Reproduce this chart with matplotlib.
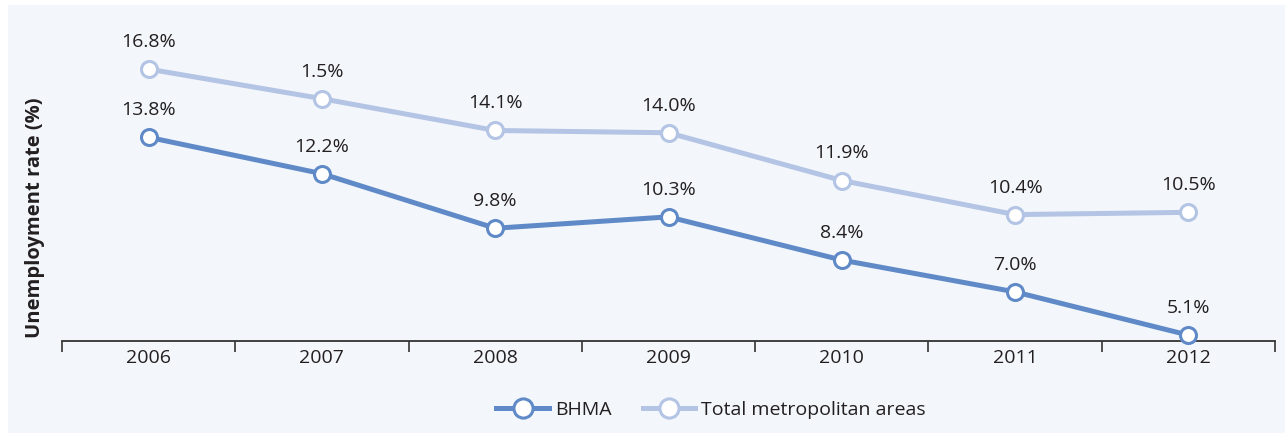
import numpy as np
import matplotlib.pyplot as plt
from matplotlib.patches import Rectangle

years = ["2006", "2007", "2008", "2009", "2010", "2011", "2012"]
bhma = [13.8, 12.2, 9.8, 10.3, 8.4, 7.0, 5.1]
total_metro = [16.8, 15.5, 14.1, 14.0, 11.9, 10.4, 10.5]
bhma_labels = ["13.8%", "12.2%", "9.8%", "10.3%", "8.4%", "7.0%", "5.1%"]
total_labels = ["16.8%", "1.5%", "14.1%", "14.0%", "11.9%", "10.4%", "10.5%"]

plt.rcParams['font.family'] = ['Open Sans', 'DejaVu Sans']

dark = '#5f8ac7'
light = '#b3c4e4'
bg = '#f3f6fb'
txt = '#231f20'

fig = plt.figure(figsize=(12.85, 4.33), dpi=100)
fig.patch.set_facecolor('white')
fig.patches.append(Rectangle((8/1285, 0), 1, 1 - 5/433, transform=fig.transFigure,
                             facecolor=bg, edgecolor='none', zorder=-10))

ax = fig.add_axes([62/1285, 1 - 341/433, (1275 - 62)/1285, (341 - 10)/433])
ax.set_facecolor('none')

x = np.arange(len(years))
ax.plot(x, total_metro, color=light, lw=3.6, marker='o', ms=11.5,
        mfc='white', mec=light, mew=2.2, label='Total metropolitan areas', zorder=3,
        clip_on=False)
ax.plot(x, bhma, color=dark, lw=3.6, marker='o', ms=11.5,
        mfc='white', mec=dark, mew=2.2, label='BHMA', zorder=4, clip_on=False)

# value labels above the points
for xi, v, s in zip(x, total_metro, total_labels):
    ax.annotate(s, (xi, v), xytext=(0, 13), textcoords='offset points',
                ha='center', va='bottom', fontsize=14, color=txt)
for xi, v, s in zip(x, bhma, bhma_labels):
    ax.annotate(s, (xi, v), xytext=(0, 13), textcoords='offset points',
                ha='center', va='bottom', fontsize=14, color=txt)

ax.set_xlim(-0.5, len(years) - 0.5)
ax.set_ylim(4.84, 19.4)

for s in ['top', 'right', 'left']:
    ax.spines[s].set_visible(False)
ax.spines['bottom'].set_color('#333333')
ax.spines['bottom'].set_linewidth(1.3)
ax.set_yticks([])

ax.set_xticks(np.arange(-0.5, len(years)), minor=False)
ax.set_xticklabels([])
ax.tick_params(axis='x', which='major', length=8, width=1.2, color='#333333')
ax.set_xticks(x, minor=True)
ax.set_xticklabels(years, minor=True)
ax.tick_params(axis='x', which='minor', length=0, pad=6, labelsize=14, labelcolor=txt)

fig.text(35/1285, 1 - 218/433, 'Unemployment rate (%)', rotation=90,
         ha='center', va='center', fontsize=14.5, fontweight='bold', color=txt)

h, l = ax.get_legend_handles_labels()
fig.legend(h[::-1], l[::-1], loc='center', bbox_to_anchor=(711/1285, 1 - 410/433),
           ncol=2, frameon=False, fontsize=14, handlelength=2.7, markerscale=1.2,
           handletextpad=0.3, columnspacing=1.6, labelcolor=txt)

fig.savefig('out.png', dpi=100, facecolor='white')
